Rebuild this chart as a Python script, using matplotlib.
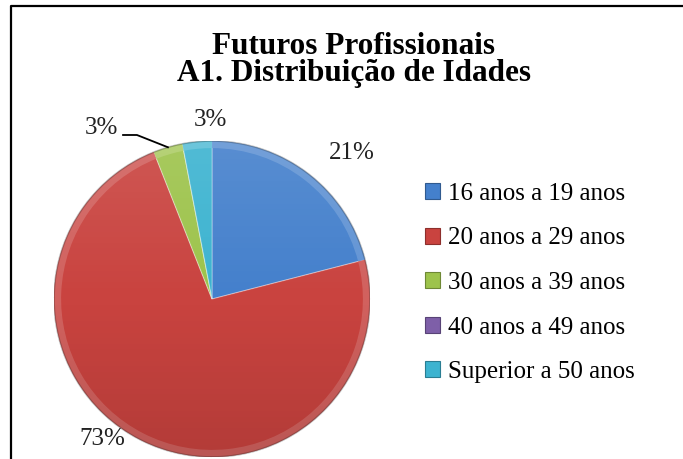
import matplotlib
matplotlib.use("Agg")
import matplotlib.pyplot as plt
import numpy as np
from matplotlib.colors import to_rgb
from matplotlib.lines import Line2D
from matplotlib.patches import Circle, Patch

plt.rcParams["font.family"] = ["Liberation Serif", "DejaVu Serif"]

TITLE = "Futuros Profissionais\nA1. Distribuição de Idades"
CATEGORIES = [
    "16 anos a 19 anos",
    "20 anos a 29 anos",
    "30 anos a 39 anos",
    "40 anos a 49 anos",
    "Superior a 50 anos",
]
PERCENTS = [21, 73, 3, 0, 3]
COLORS = ["#4480CC", "#C9433F", "#9DC34B", "#7E5FA8", "#3CB3D0"]

# label placement (data coords of the pie axes, radius = 1)
LABEL_POS = [(0.886, 0.924), (-0.696, -0.886), (-0.70, 1.082), None, (-0.013, 1.133)]


def mix(color, other, t):
    c = np.array(to_rgb(color))
    o = np.array(to_rgb(other))
    return tuple(c * (1 - t) + o * t)


fig = plt.figure(figsize=(6.83, 4.59), dpi=100)
W, H = 683, 459

# frame (top and left border of the cropped chart area)
fig.add_artist(Line2D([11 / W, 11 / W, 1.0], [0.0, 1 - 6 / H, 1 - 6 / H],
                      transform=fig.transFigure, color="black", lw=1.6))

fig.text(354 / W, 1 - 60 / H, TITLE, ha="center", va="center",
         fontsize=22.5, fontweight="bold", linespacing=0.95)

# pie axes: centre (212, 299) px, radius 158 px
cx, cy, r = 212, 299, 158
ax = fig.add_axes([(cx - r) / W, (H - cy - r) / H, 2 * r / W, 2 * r / H])

wedges, _ = ax.pie(PERCENTS, colors=COLORS, startangle=90, counterclock=False,
                   radius=1.0,
                   wedgeprops=dict(linewidth=0.8, edgecolor="#ffffff55"))

# lighter bevel rim
ax.pie(PERCENTS, colors=[mix(c, "white", 0.18) for c in COLORS], startangle=90,
       counterclock=False, radius=1.0,
       wedgeprops=dict(width=0.045, linewidth=0, alpha=0.9))

# soft vertical shading over the disc
ramp = np.linspace(0, 1, 256)[:, None]
shade = np.zeros((256, 1, 4))
shade[..., :3] = np.where(ramp[..., None] < 0.5, 1.0, 0.0)
shade[..., 3] = np.abs(ramp - 0.5) * 0.22
img = ax.imshow(shade, extent=(-1, 1, -1, 1), origin="upper", aspect="auto",
                interpolation="bilinear", zorder=3)
img.set_clip_path(Circle((0, 0), 1.0, transform=ax.transData))
ax.add_patch(Circle((0, 0), 1.0, fill=False, ec="#00000040", lw=1.2, zorder=4))

for w, pct, pos in zip(wedges, PERCENTS, LABEL_POS):
    if pct == 0 or pos is None:
        continue
    ax.text(pos[0], pos[1], f"{pct}%", ha="center", va="center", fontsize=18,
            color="#222222")

# leader line for the green slice label
g = wedges[2]
mid = np.deg2rad((g.theta1 + g.theta2) / 2)
ax.plot([-0.563, -0.475, np.cos(mid)], [1.038, 1.038, np.sin(mid)],
        color="black", lw=1.3, clip_on=False, zorder=5)

ax.set_xlim(-1, 1)
ax.set_ylim(-1, 1)
ax.set_aspect("equal")
ax.axis("off")

handles = [Patch(facecolor=c, edgecolor=mix(c, "black", 0.3), lw=0.8) for c in COLORS]
fig.legend(handles, CATEGORIES, loc="upper left",
           bbox_to_anchor=(425 / W, 1 - 183 / H), frameon=False,
           fontsize=18, handlelength=0.6, handleheight=0.6,
           handletextpad=0.3, labelspacing=0.9, borderpad=0, borderaxespad=0)

fig.savefig("out.png", dpi=100)
